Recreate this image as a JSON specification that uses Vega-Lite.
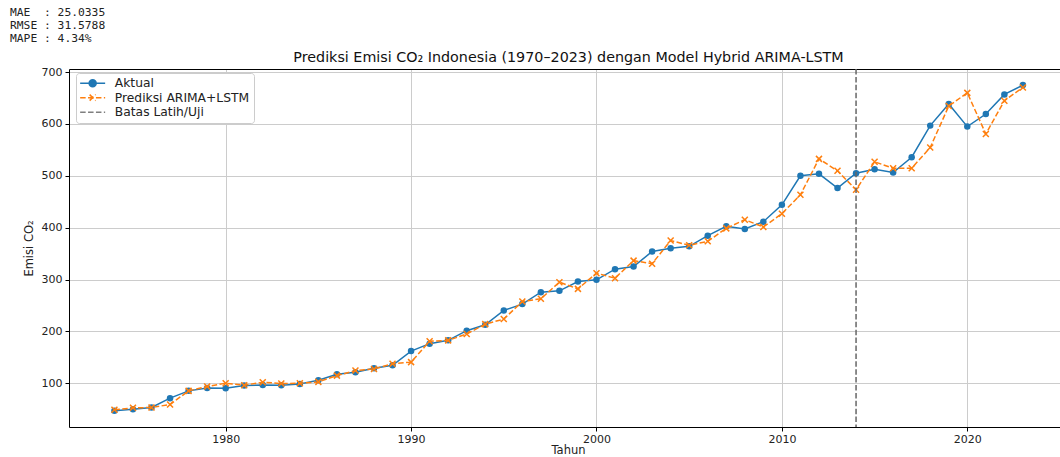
{
  "$schema": "https://vega.github.io/schema/vega-lite/v6.json",
  "width": 991,
  "height": 358,
  "autosize": {"type": "none"},
  "padding": {"left": 69, "top": 69, "right": 0, "bottom": 30},
  "background": "white",
  "config": {"view": {"stroke": null}, "font": "DejaVu Sans"},
  "title": {
    "text": ["MAE\u00a0\u00a0: 25.0335", "RMSE : 31.5788", "MAPE : 4.34%"],
    "anchor": "start",
    "frame": "group",
    "font": "DejaVu Sans Mono",
    "fontSize": 11.3,
    "fontWeight": "normal",
    "color": "#222222",
    "lineHeight": 13,
    "dx": -59,
    "offset": 6
  },
  "datasets": {
    "emisi": [
      {"Tahun": 1974, "Seri": "Aktual", "Nilai": 46.8},
      {"Tahun": 1975, "Seri": "Aktual", "Nilai": 50.0},
      {"Tahun": 1976, "Seri": "Aktual", "Nilai": 53.2},
      {"Tahun": 1977, "Seri": "Aktual", "Nilai": 71.2},
      {"Tahun": 1978, "Seri": "Aktual", "Nilai": 85.3},
      {"Tahun": 1979, "Seri": "Aktual", "Nilai": 91.0},
      {"Tahun": 1980, "Seri": "Aktual", "Nilai": 90.4},
      {"Tahun": 1981, "Seri": "Aktual", "Nilai": 95.5},
      {"Tahun": 1982, "Seri": "Aktual", "Nilai": 96.8},
      {"Tahun": 1983, "Seri": "Aktual", "Nilai": 96.2},
      {"Tahun": 1984, "Seri": "Aktual", "Nilai": 98.7},
      {"Tahun": 1985, "Seri": "Aktual", "Nilai": 105.8},
      {"Tahun": 1986, "Seri": "Aktual", "Nilai": 117.3},
      {"Tahun": 1987, "Seri": "Aktual", "Nilai": 121.0},
      {"Tahun": 1988, "Seri": "Aktual", "Nilai": 128.8},
      {"Tahun": 1989, "Seri": "Aktual", "Nilai": 134.5},
      {"Tahun": 1990, "Seri": "Aktual", "Nilai": 162.0},
      {"Tahun": 1991, "Seri": "Aktual", "Nilai": 176.3},
      {"Tahun": 1992, "Seri": "Aktual", "Nilai": 182.7},
      {"Tahun": 1993, "Seri": "Aktual", "Nilai": 201.3},
      {"Tahun": 1994, "Seri": "Aktual", "Nilai": 212.8},
      {"Tahun": 1995, "Seri": "Aktual", "Nilai": 240.4},
      {"Tahun": 1996, "Seri": "Aktual", "Nilai": 252.6},
      {"Tahun": 1997, "Seri": "Aktual", "Nilai": 275.6},
      {"Tahun": 1998, "Seri": "Aktual", "Nilai": 278.2},
      {"Tahun": 1999, "Seri": "Aktual", "Nilai": 296.2},
      {"Tahun": 2000, "Seri": "Aktual", "Nilai": 299.4},
      {"Tahun": 2001, "Seri": "Aktual", "Nilai": 319.9},
      {"Tahun": 2002, "Seri": "Aktual", "Nilai": 325.0},
      {"Tahun": 2003, "Seri": "Aktual", "Nilai": 354.0},
      {"Tahun": 2004, "Seri": "Aktual", "Nilai": 360.5},
      {"Tahun": 2005, "Seri": "Aktual", "Nilai": 364.0},
      {"Tahun": 2006, "Seri": "Aktual", "Nilai": 384.6},
      {"Tahun": 2007, "Seri": "Aktual", "Nilai": 402.6},
      {"Tahun": 2008, "Seri": "Aktual", "Nilai": 397.4},
      {"Tahun": 2009, "Seri": "Aktual", "Nilai": 411.5},
      {"Tahun": 2010, "Seri": "Aktual", "Nilai": 444.0},
      {"Tahun": 2011, "Seri": "Aktual", "Nilai": 500.0},
      {"Tahun": 2012, "Seri": "Aktual", "Nilai": 503.8},
      {"Tahun": 2013, "Seri": "Aktual", "Nilai": 476.3},
      {"Tahun": 2014, "Seri": "Aktual", "Nilai": 505.0},
      {"Tahun": 2015, "Seri": "Aktual", "Nilai": 512.8},
      {"Tahun": 2016, "Seri": "Aktual", "Nilai": 506.4},
      {"Tahun": 2017, "Seri": "Aktual", "Nilai": 535.9},
      {"Tahun": 2018, "Seri": "Aktual", "Nilai": 596.8},
      {"Tahun": 2019, "Seri": "Aktual", "Nilai": 638.5},
      {"Tahun": 2020, "Seri": "Aktual", "Nilai": 594.9},
      {"Tahun": 2021, "Seri": "Aktual", "Nilai": 619.2},
      {"Tahun": 2022, "Seri": "Aktual", "Nilai": 657.0},
      {"Tahun": 2023, "Seri": "Aktual", "Nilai": 675.0},
      {"Tahun": 1974, "Seri": "Prediksi ARIMA+LSTM", "Nilai": 48.7},
      {"Tahun": 1975, "Seri": "Prediksi ARIMA+LSTM", "Nilai": 52.6},
      {"Tahun": 1976, "Seri": "Prediksi ARIMA+LSTM", "Nilai": 53.2},
      {"Tahun": 1977, "Seri": "Prediksi ARIMA+LSTM", "Nilai": 59.0},
      {"Tahun": 1978, "Seri": "Prediksi ARIMA+LSTM", "Nilai": 85.3},
      {"Tahun": 1979, "Seri": "Prediksi ARIMA+LSTM", "Nilai": 93.6},
      {"Tahun": 1980, "Seri": "Prediksi ARIMA+LSTM", "Nilai": 100.0},
      {"Tahun": 1981, "Seri": "Prediksi ARIMA+LSTM", "Nilai": 96.2},
      {"Tahun": 1982, "Seri": "Prediksi ARIMA+LSTM", "Nilai": 102.0},
      {"Tahun": 1983, "Seri": "Prediksi ARIMA+LSTM", "Nilai": 99.4},
      {"Tahun": 1984, "Seri": "Prediksi ARIMA+LSTM", "Nilai": 100.0},
      {"Tahun": 1985, "Seri": "Prediksi ARIMA+LSTM", "Nilai": 102.6},
      {"Tahun": 1986, "Seri": "Prediksi ARIMA+LSTM", "Nilai": 114.7},
      {"Tahun": 1987, "Seri": "Prediksi ARIMA+LSTM", "Nilai": 124.4},
      {"Tahun": 1988, "Seri": "Prediksi ARIMA+LSTM", "Nilai": 127.6},
      {"Tahun": 1989, "Seri": "Prediksi ARIMA+LSTM", "Nilai": 137.4},
      {"Tahun": 1990, "Seri": "Prediksi ARIMA+LSTM", "Nilai": 140.7},
      {"Tahun": 1991, "Seri": "Prediksi ARIMA+LSTM", "Nilai": 180.8},
      {"Tahun": 1992, "Seri": "Prediksi ARIMA+LSTM", "Nilai": 182.7},
      {"Tahun": 1993, "Seri": "Prediksi ARIMA+LSTM", "Nilai": 194.9},
      {"Tahun": 1994, "Seri": "Prediksi ARIMA+LSTM", "Nilai": 214.0},
      {"Tahun": 1995, "Seri": "Prediksi ARIMA+LSTM", "Nilai": 223.7},
      {"Tahun": 1996, "Seri": "Prediksi ARIMA+LSTM", "Nilai": 257.7},
      {"Tahun": 1997, "Seri": "Prediksi ARIMA+LSTM", "Nilai": 262.8},
      {"Tahun": 1998, "Seri": "Prediksi ARIMA+LSTM", "Nilai": 294.9},
      {"Tahun": 1999, "Seri": "Prediksi ARIMA+LSTM", "Nilai": 282.0},
      {"Tahun": 2000, "Seri": "Prediksi ARIMA+LSTM", "Nilai": 312.2},
      {"Tahun": 2001, "Seri": "Prediksi ARIMA+LSTM", "Nilai": 302.6},
      {"Tahun": 2002, "Seri": "Prediksi ARIMA+LSTM", "Nilai": 336.5},
      {"Tahun": 2003, "Seri": "Prediksi ARIMA+LSTM", "Nilai": 330.5},
      {"Tahun": 2004, "Seri": "Prediksi ARIMA+LSTM", "Nilai": 375.3},
      {"Tahun": 2005, "Seri": "Prediksi ARIMA+LSTM", "Nilai": 366.0},
      {"Tahun": 2006, "Seri": "Prediksi ARIMA+LSTM", "Nilai": 373.7},
      {"Tahun": 2007, "Seri": "Prediksi ARIMA+LSTM", "Nilai": 398.7},
      {"Tahun": 2008, "Seri": "Prediksi ARIMA+LSTM", "Nilai": 415.4},
      {"Tahun": 2009, "Seri": "Prediksi ARIMA+LSTM", "Nilai": 401.3},
      {"Tahun": 2010, "Seri": "Prediksi ARIMA+LSTM", "Nilai": 426.9},
      {"Tahun": 2011, "Seri": "Prediksi ARIMA+LSTM", "Nilai": 463.5},
      {"Tahun": 2012, "Seri": "Prediksi ARIMA+LSTM", "Nilai": 532.7},
      {"Tahun": 2013, "Seri": "Prediksi ARIMA+LSTM", "Nilai": 509.6},
      {"Tahun": 2014, "Seri": "Prediksi ARIMA+LSTM", "Nilai": 473.0},
      {"Tahun": 2015, "Seri": "Prediksi ARIMA+LSTM", "Nilai": 527.0},
      {"Tahun": 2016, "Seri": "Prediksi ARIMA+LSTM", "Nilai": 514.7},
      {"Tahun": 2017, "Seri": "Prediksi ARIMA+LSTM", "Nilai": 514.7},
      {"Tahun": 2018, "Seri": "Prediksi ARIMA+LSTM", "Nilai": 554.5},
      {"Tahun": 2019, "Seri": "Prediksi ARIMA+LSTM", "Nilai": 634.6},
      {"Tahun": 2020, "Seri": "Prediksi ARIMA+LSTM", "Nilai": 660.0},
      {"Tahun": 2021, "Seri": "Prediksi ARIMA+LSTM", "Nilai": 580.8},
      {"Tahun": 2022, "Seri": "Prediksi ARIMA+LSTM", "Nilai": 644.9},
      {"Tahun": 2023, "Seri": "Prediksi ARIMA+LSTM", "Nilai": 670.5}
    ],
    "batas": [{"Tahun": 2014}]
  },
  "resolve": {"axis": {"x": "independent"}},
  "layer": [
    {
      "data": {"name": "emisi"},
      "transform": [{"filter": "datum.Seri == 'Aktual'"}],
      "mark": {"type": "line", "strokeWidth": 1.5},
      "encoding": {
        "x": {
          "field": "Tahun", "type": "quantitative",
          "scale": {"domain": [1971.55, 2025.0], "nice": false, "zero": false},
          "axis": {
            "values": [1980, 1990, 2000, 2010, 2020], "format": "d",
            "grid": true, "gridColor": "#cccccc", "gridWidth": 1,
            "domainColor": "#000000", "domainWidth": 1,
            "tickColor": "#000000", "tickSize": 4, "tickWidth": 1,
            "labelFont": "DejaVu Sans", "labelFontSize": 11, "labelColor": "#222222", "labelPadding": 2,
            "title": "Tahun", "titleFont": "DejaVu Sans", "titleFontSize": 11.5, "titleFontWeight": "normal",
            "titleColor": "#222222", "titlePadding": 0, "titleX": 499
          }
        },
        "y": {
          "field": "Nilai", "type": "quantitative",
          "scale": {"domain": [15.6, 706.0], "nice": false, "zero": false},
          "axis": {
            "values": [100, 200, 300, 400, 500, 600, 700],
            "grid": true, "gridColor": "#cccccc", "gridWidth": 1,
            "domainColor": "#000000", "domainWidth": 1,
            "tickColor": "#000000", "tickSize": 4, "tickWidth": 1,
            "labelFont": "DejaVu Sans", "labelFontSize": 11, "labelColor": "#222222", "labelPadding": 3,
            "title": "Emisi CO₂", "titleFont": "DejaVu Sans", "titleFontSize": 11.5, "titleFontWeight": "normal",
            "titleColor": "#222222", "titlePadding": 7
          }
        },
        "color": {
          "field": "Seri", "type": "nominal",
          "scale": {"domain": ["Aktual", "Prediksi ARIMA+LSTM", "Batas Latih/Uji"], "range": ["#1f77b4", "#ff7f0e", "#7f7f7f"]},
          "legend": {
            "title": null, "orient": "none", "legendX": 7, "legendY": 4, "padding": 4,
            "fillColor": "white", "strokeColor": "#cccccc", "cornerRadius": 3,
            "labelFont": "DejaVu Sans", "labelFontSize": 12.3, "labelColor": "#222222",
            "symbolSize": 100, "symbolStrokeWidth": 1.5, "symbolOffset": 6.5, "labelOffset": 16, "rowPadding": 1.5,
            "encode": {
              "symbols": {
                "update": {
                  "shape": {"signal": "datum.value == 'Aktual' ? 'M-2.5,0L2.5,0M0.7,0A0.7,0.7,0,1,1,-0.7,0A0.7,0.7,0,1,1,0.7,0' : datum.value == 'Batas Latih/Uji' ? 'M-2.5,0L2.5,0' : 'M-2.5,0L2.5,0M-0.6,-0.6L0.6,0.6M-0.6,0.6L0.6,-0.6'"},
                  "fill": {"signal": "datum.value == 'Aktual' ? '#1f77b4' : 'transparent'"},
                  "stroke": {"signal": "datum.value == 'Aktual' ? '#1f77b4' : datum.value == 'Batas Latih/Uji' ? '#7f7f7f' : '#ff7f0e'"},
                  "strokeDash": {"signal": "datum.value == 'Aktual' ? [] : [5.5, 2.4]"},
                  "strokeWidth": {"value": 1.5},
                  "opacity": {"value": 1}
                }
              }
            }
          }
        }
      }
    },
    {
      "data": {"name": "emisi"},
      "transform": [{"filter": "datum.Seri == 'Aktual'"}],
      "mark": {"type": "point", "shape": "circle", "filled": true, "size": 42, "color": "#1f77b4", "opacity": 1},
      "encoding": {
        "x": {"field": "Tahun", "type": "quantitative", "axis": null},
        "y": {"field": "Nilai", "type": "quantitative"}
      }
    },
    {
      "data": {"name": "emisi"},
      "transform": [{"filter": "datum.Seri == 'Prediksi ARIMA+LSTM'"}],
      "mark": {"type": "line", "strokeWidth": 1.5, "strokeDash": [5.5, 2.4]},
      "encoding": {
        "x": {"field": "Tahun", "type": "quantitative", "axis": null},
        "y": {"field": "Nilai", "type": "quantitative"},
        "color": {"field": "Seri", "type": "nominal"}
      }
    },
    {
      "data": {"name": "emisi"},
      "transform": [{"filter": "datum.Seri == 'Prediksi ARIMA+LSTM'"}],
      "mark": {"type": "point", "shape": "M-1,-1L1,1M-1,1L1,-1", "filled": false, "size": 36, "strokeWidth": 1.5, "color": "#ff7f0e", "opacity": 1},
      "encoding": {
        "x": {"field": "Tahun", "type": "quantitative", "axis": null},
        "y": {"field": "Nilai", "type": "quantitative"}
      }
    },
    {
      "data": {"name": "batas"},
      "mark": {"type": "rule", "strokeWidth": 1.5, "strokeDash": [5.5, 2.4], "color": "#666666"},
      "encoding": {
        "x": {
          "field": "Tahun", "type": "quantitative",
          "axis": {
            "orient": "top", "labels": false, "ticks": false, "grid": false,
            "domain": true, "domainColor": "#000000", "domainWidth": 1,
            "title": "Prediksi Emisi CO₂ Indonesia (1970–2023) dengan Model Hybrid ARIMA-LSTM",
            "titleFont": "DejaVu Sans", "titleFontSize": 14.3, "titleFontWeight": "normal",
            "titleColor": "#111111", "titlePadding": 5, "titleX": 499
          }
        }
      }
    }
  ]
}
